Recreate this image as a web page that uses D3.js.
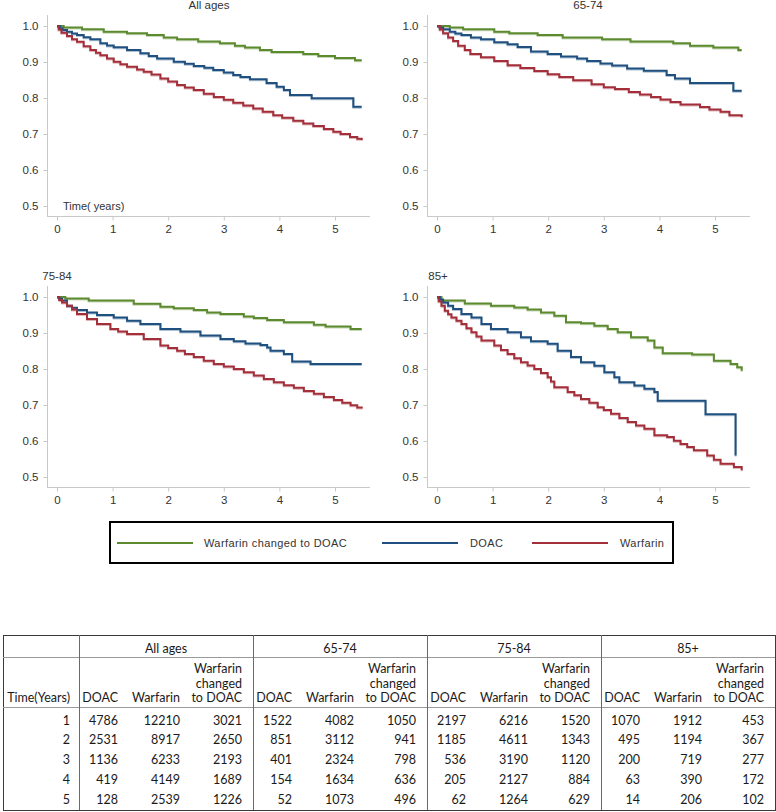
<!DOCTYPE html>
<html><head><meta charset="utf-8">
<script src="https://cdn.jsdelivr.net/npm/d3@7/dist/d3.min.js"></script>
<style>body{margin:0;background:#fff}svg{display:block}</style>
</head><body><svg id="c" width="776" height="812"></svg>
<script>
// ---------- data ----------
const panelTitles = ["All ages", "65-74", "75-84", "85+"];
const seriesNames = ["Warfarin changed to DOAC", "DOAC", "Warfarin"];
const seriesColors = ["#5c8a2e", "#1f5080", "#a32f3a"];
const xTicks = [0, 1, 2, 3, 4, 5];
const yTicks = [0.5, 0.6, 0.7, 0.8, 0.9, 1.0];

// Kaplan-Meier step points [time (years), survival]
const switchAll = [[0,1],[0.12,0.996],[0.45,0.991],[0.84,0.984],[1.26,0.980],[1.62,0.975],[1.92,0.968],[2.16,0.963],[2.54,0.957],[2.93,0.952],[3.2,0.945],[3.38,0.94],[3.65,0.933],[3.86,0.928],[4.43,0.922],[4.7,0.917],[5.0,0.911],[5.36,0.905],[5.48,0.905]];
const doacAll = [[0,1],[0.05,0.994],[0.1,0.989],[0.18,0.984],[0.27,0.979],[0.36,0.975],[0.48,0.969],[0.6,0.963],[0.78,0.952],[0.9,0.946],[1.02,0.941],[1.26,0.933],[1.5,0.924],[1.65,0.917],[1.8,0.91],[2.1,0.901],[2.3,0.895],[2.46,0.889],[2.65,0.884],[2.81,0.878],[3.0,0.871],[3.17,0.864],[3.3,0.858],[3.47,0.852],[3.77,0.842],[3.95,0.831],[4.08,0.822],[4.19,0.808],[4.58,0.799],[5.33,0.776],[5.48,0.776]];
const warfAll = [[0,1],[0.03,0.99],[0.08,0.981],[0.18,0.972],[0.27,0.963],[0.36,0.956],[0.48,0.944],[0.6,0.933],[0.7,0.926],[0.78,0.919],[0.9,0.91],[1.02,0.901],[1.14,0.894],[1.26,0.887],[1.44,0.879],[1.56,0.873],[1.7,0.865],[1.86,0.854],[2.0,0.846],[2.16,0.836],[2.3,0.829],[2.46,0.822],[2.64,0.812],[2.82,0.803],[3.0,0.795],[3.17,0.787],[3.35,0.779],[3.53,0.771],[3.7,0.762],[3.89,0.752],[4.05,0.745],[4.25,0.737],[4.43,0.729],[4.61,0.722],[4.8,0.714],[4.97,0.706],[5.1,0.700],[5.27,0.692],[5.4,0.687],[5.48,0.683]];

const switch65 = [[0,1],[0.23,0.996],[0.47,0.991],[1.03,0.984],[1.3,0.98],[1.81,0.975],[2.26,0.968],[2.97,0.963],[3.48,0.957],[4.25,0.952],[4.55,0.945],[4.97,0.94],[5.42,0.933],[5.48,0.933]];
const doac65 = [[0,1],[0.05,0.995],[0.11,0.991],[0.23,0.984],[0.33,0.979],[0.44,0.975],[0.61,0.968],[0.79,0.963],[1.03,0.955],[1.27,0.949],[1.45,0.942],[1.69,0.929],[1.99,0.922],[2.23,0.915],[2.52,0.91],[2.7,0.903],[2.94,0.896],[3.15,0.89],[3.42,0.882],[3.72,0.876],[4.13,0.864],[4.28,0.854],[4.55,0.842],[5.33,0.82],[5.48,0.82]];
const warf65 = [[0,1],[0.05,0.99],[0.11,0.98],[0.2,0.968],[0.29,0.958],[0.38,0.945],[0.5,0.933],[0.6,0.922],[0.79,0.913],[1.03,0.903],[1.27,0.891],[1.5,0.883],[1.75,0.875],[1.99,0.866],[2.2,0.858],[2.45,0.849],[2.78,0.838],[3.0,0.83],[3.2,0.825],[3.45,0.817],[3.65,0.81],[3.85,0.803],[4.02,0.796],[4.2,0.789],[4.38,0.782],[4.73,0.775],[4.9,0.768],[5.1,0.762],[5.26,0.752],[5.48,0.747]];

const switch75 = [[0,1],[0.15,0.996],[0.57,0.99],[1.38,0.981],[1.86,0.973],[2.1,0.969],[2.46,0.964],[2.7,0.957],[2.94,0.953],[3.36,0.946],[3.54,0.942],[3.78,0.936],[4.08,0.93],[4.62,0.923],[4.83,0.918],[5.28,0.911],[5.48,0.911]];
const doac75 = [[0,1],[0.04,0.995],[0.09,0.99],[0.18,0.976],[0.27,0.97],[0.36,0.964],[0.54,0.957],[0.72,0.95],[1.02,0.943],[1.26,0.934],[1.5,0.925],[1.86,0.911],[2.22,0.904],[2.58,0.893],[2.94,0.883],[3.18,0.877],[3.39,0.871],[3.66,0.867],[3.78,0.86],[3.84,0.851],[4.08,0.842],[4.23,0.821],[4.56,0.814],[5.48,0.814]];
const warf75 = [[0,1],[0.04,0.992],[0.09,0.985],[0.18,0.976],[0.27,0.965],[0.36,0.953],[0.54,0.939],[0.72,0.925],[0.96,0.911],[1.1,0.904],[1.26,0.897],[1.56,0.883],[1.86,0.865],[2.0,0.858],[2.16,0.851],[2.3,0.842],[2.46,0.833],[2.64,0.823],[2.82,0.814],[3.0,0.807],[3.18,0.8],[3.36,0.791],[3.54,0.782],[3.72,0.772],[3.9,0.763],[4.08,0.755],[4.26,0.748],[4.44,0.739],[4.62,0.731],[4.8,0.722],[4.98,0.714],[5.13,0.706],[5.28,0.699],[5.4,0.693],[5.48,0.69]];

const switch85 = [[0,1],[0.08,0.99],[0.5,0.982],[0.97,0.976],[1.39,0.971],[1.63,0.965],[1.87,0.957],[2.11,0.948],[2.32,0.93],[2.59,0.927],[2.83,0.92],[3.07,0.911],[3.25,0.902],[3.49,0.888],[3.79,0.879],[3.91,0.86],[4.06,0.844],[4.59,0.84],[4.98,0.823],[5.28,0.814],[5.4,0.805],[5.48,0.795]];
const doac85 = [[0,1],[0.05,0.993],[0.11,0.985],[0.2,0.976],[0.29,0.967],[0.44,0.953],[0.62,0.943],[0.8,0.925],[0.97,0.911],[1.27,0.902],[1.51,0.888],[1.69,0.877],[1.99,0.87],[2.17,0.851],[2.41,0.833],[2.59,0.819],[2.83,0.809],[3.01,0.791],[3.19,0.777],[3.28,0.763],[3.55,0.754],[3.73,0.745],[3.91,0.736],[3.97,0.712],[4.83,0.674],[5.37,0.56]];
const warf85 = [[0,1],[0.03,0.988],[0.08,0.976],[0.14,0.962],[0.2,0.952],[0.26,0.943],[0.35,0.934],[0.44,0.925],[0.53,0.913],[0.62,0.902],[0.71,0.89],[0.8,0.879],[1.03,0.865],[1.15,0.853],[1.27,0.842],[1.39,0.83],[1.51,0.819],[1.63,0.81],[1.75,0.8],[1.87,0.789],[1.99,0.777],[2.05,0.765],[2.11,0.749],[2.35,0.736],[2.47,0.727],[2.59,0.717],[2.74,0.706],[2.89,0.694],[3.0,0.686],[3.13,0.676],[3.28,0.664],[3.43,0.653],[3.58,0.643],[3.73,0.634],[3.91,0.616],[4.14,0.611],[4.26,0.601],[4.38,0.592],[4.5,0.583],[4.62,0.574],[4.86,0.56],[4.98,0.548],[5.1,0.537],[5.34,0.528],[5.48,0.519]];

// Numbers-at-risk table
const tableYears = [1, 2, 3, 4, 5];
const tableColumns = ["DOAC", "Warfarin", "Warfarin changed to DOAC"];
const riskAllDoac = [4786, 2531, 1136, 419, 128];
const riskAllWarf = [12210, 8917, 6233, 4149, 2539];
const riskAllSwitch = [3021, 2650, 2193, 1689, 1226];
const risk65Doac = [1522, 851, 401, 154, 52];
const risk65Warf = [4082, 3112, 2324, 1634, 1073];
const risk65Switch = [1050, 941, 798, 636, 496];
const risk75Doac = [2197, 1185, 536, 205, 62];
const risk75Warf = [6216, 4611, 3190, 2127, 1264];
const risk75Switch = [1520, 1343, 1120, 884, 629];
const risk85Doac = [1070, 495, 200, 63, 14];
const risk85Warf = [1912, 1194, 719, 390, 206];
const risk85Switch = [453, 367, 277, 172, 102];

// ---------- drawing ----------
const svg = d3.select("#c");
const axisFont = "'Liberation Sans', Arial, sans-serif";

const panels = [
  { title: panelTitles[0], ox: 47, oy: 216, series: [switchAll, doacAll, warfAll], tx: 209, anchor: "middle", timeLabel: true },
  { title: panelTitles[1], ox: 427, oy: 216, series: [switch65, doac65, warf65], tx: 588, anchor: "middle" },
  { title: panelTitles[2], ox: 47, oy: 487, series: [switch75, doac75, warf75], tx: 57, anchor: "middle" },
  { title: panelTitles[3], ox: 427, oy: 487, series: [switch85, doac85, warf85], tx: 438, anchor: "middle" }
];

panels.forEach(p => {
  const g = svg.append("g");
  const x = d3.scaleLinear().domain([0, 5]).range([p.ox + 10, p.ox + 288]);
  const y = d3.scaleLinear().domain([0.5, 1.0]).range([p.oy - 10, p.oy - 190]);

  // axis lines
  g.append("line").attr("x1", p.ox).attr("x2", p.ox + 323).attr("y1", p.oy + 0.5).attr("y2", p.oy + 0.5)
    .attr("stroke", "#c9c9c9").attr("stroke-width", 1);
  g.append("line").attr("x1", p.ox + 0.5).attr("x2", p.ox + 0.5).attr("y1", p.oy - 201).attr("y2", p.oy)
    .attr("stroke", "#c9c9c9").attr("stroke-width", 1);

  const xa = g.append("g").attr("transform", `translate(0,${p.oy + 0.5})`)
    .call(d3.axisBottom(x).tickValues(xTicks).tickFormat(d3.format("d")).tickSizeInner(4).tickSizeOuter(0).tickPadding(4));
  const ya = g.append("g").attr("transform", `translate(${p.ox + 0.5},0)`)
    .call(d3.axisLeft(y).tickValues(yTicks).tickFormat(d3.format(".1f")).tickSizeInner(4).tickSizeOuter(0).tickPadding(5));
  [xa, ya].forEach(a => {
    a.select(".domain").remove();
    a.selectAll(".tick line").attr("stroke", "#c9c9c9");
    a.selectAll(".tick text").attr("fill", "#333").style("font-family", axisFont).style("font-size", "11.5px");
  });

  g.append("text").attr("x", p.tx).attr("y", p.oy - 207).attr("text-anchor", p.anchor)
    .attr("fill", "#333").style("font-family", axisFont).style("font-size", "11.5px").text(p.title);

  if (p.timeLabel) {
    g.append("text").attr("x", p.ox + 16).attr("y", p.oy - 6)
      .attr("fill", "#333").style("font-family", axisFont).style("font-size", "11px").text("Time( years)");
  }

  const line = d3.line().x(d => x(d[0])).y(d => y(d[1])).curve(d3.curveStepAfter);
  p.series.forEach((s, i) => {
    g.append("path").attr("d", line(s)).attr("fill", "none")
      .attr("stroke", seriesColors[i]).attr("stroke-opacity", 0.35).attr("stroke-width", 2)
      .attr("transform", "translate(0,1)");
  });
  p.series.forEach((s, i) => {
    g.append("path").attr("d", line(s)).attr("fill", "none")
      .attr("stroke", seriesColors[i]).attr("stroke-width", 2);
  });
});

// legend
const lg = svg.append("g");
lg.append("rect").attr("x", 110).attr("y", 522).attr("width", 563).attr("height", 41)
  .attr("fill", "#fff").attr("stroke", "#000").attr("stroke-width", 2);
const legendItems = [
  { lx: 117, tx: 204 }, { lx: 382, tx: 470 }, { lx: 532, tx: 620 }
];
legendItems.forEach((it, i) => {
  lg.append("line").attr("x1", it.lx).attr("x2", it.lx + 76).attr("y1", 543).attr("y2", 543)
    .attr("stroke", seriesColors[i]).attr("stroke-width", 2);
  lg.append("text").attr("x", it.tx).attr("y", 547).attr("fill", "#333")
    .style("font-family", axisFont).style("font-size", "11px").style("letter-spacing", "0.4px")
    .text(seriesNames[i]);
});

// table
const tg = svg.append("g");
const tFont = "Lato, 'Open Sans', sans-serif";
const tLeft = 3, tRight = 775, tTop = 635, tBottom = 810;
const groupStarts = [79, 253, 427, 601];
tg.append("rect").attr("x", tLeft + 0.5).attr("y", tTop + 0.5).attr("width", tRight - tLeft).attr("height", tBottom - tTop)
  .attr("fill", "none").attr("stroke", "#3a3a3a").attr("stroke-width", 1);
[657, 707].forEach(yy => tg.append("line").attr("x1", tLeft).attr("x2", tRight).attr("y1", yy + 0.5).attr("y2", yy + 0.5)
  .attr("stroke", "#9a9a9a").attr("stroke-width", 1));
groupStarts.forEach(gx => tg.append("line").attr("x1", gx + 0.5).attr("x2", gx + 0.5).attr("y1", tTop).attr("y2", tBottom)
  .attr("stroke", "#6a6a6a").attr("stroke-width", 1));

function tText(x, yy, s, anchor) {
  tg.append("text").attr("x", x).attr("y", yy).attr("text-anchor", anchor || "end")
    .attr("fill", "#1a1a1a").style("font-family", tFont).style("font-size", "12.5px").text(s);
}
const groups = [
  [riskAllDoac, riskAllWarf, riskAllSwitch],
  [risk65Doac, risk65Warf, risk65Switch],
  [risk75Doac, risk75Warf, risk75Switch],
  [risk85Doac, risk85Warf, risk85Switch]
];
const colOff = [39, 101, 163];
tText(70, 702, "Time(Years)");
groupStarts.forEach((gx, gi) => {
  tText(gx + 87, 653, panelTitles[gi], "middle");
  tText(gx + colOff[0], 702, tableColumns[0]);
  tText(gx + colOff[1], 702, tableColumns[1]);
  tText(gx + colOff[2], 673, "Warfarin");
  tText(gx + colOff[2], 687.5, "changed");
  tText(gx + colOff[2], 702, "to DOAC");
  groups[gi].forEach((arr, ci) => {
    arr.forEach((v, ri) => tText(gx + colOff[ci], 724.5 + ri * 19.8, String(v)));
  });
});
tableYears.forEach((yv, ri) => tText(70, 724.5 + ri * 19.8, String(yv)));
</script></body></html>
